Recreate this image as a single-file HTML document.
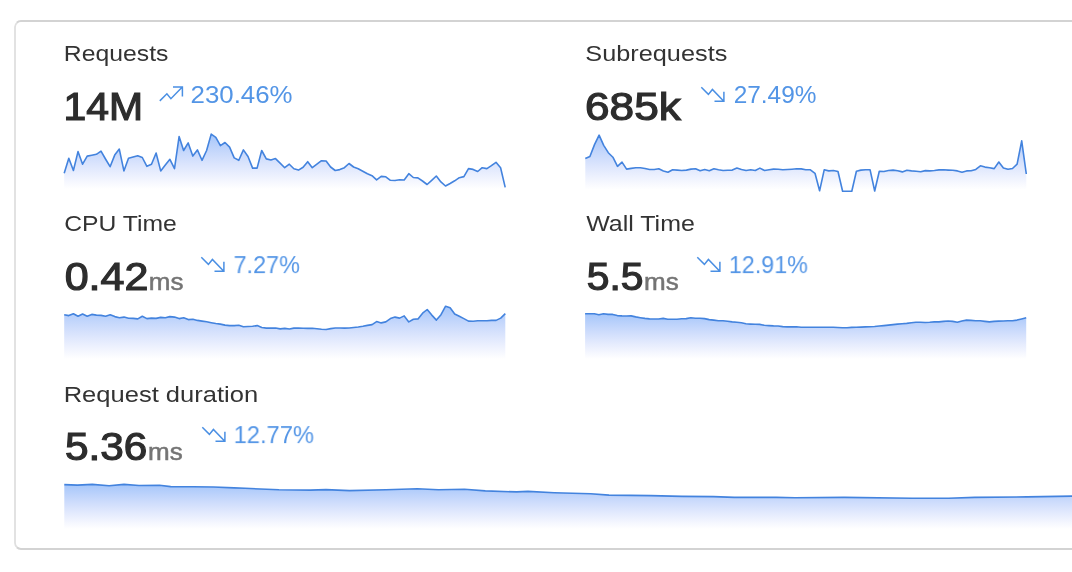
<!DOCTYPE html>
<html lang="en"><head><meta charset="utf-8"><title>Metrics</title>
<style>
html,body{margin:0;padding:0;background:#fff;}
body{width:1072px;height:572px;position:relative;overflow:hidden;font-family:"Liberation Sans",sans-serif;}
.t{position:absolute;white-space:nowrap;line-height:1;transform-origin:0 0;will-change:transform;}
.lbl{font-size:22px;color:#333;}
.num{font-size:38.7px;font-weight:normal;color:#2d2d2d;-webkit-text-stroke:1.2px #2d2d2d;}
.unit{font-size:23px;color:#747474;-webkit-text-stroke:0.5px #747474;}
.pct{font-size:24px;color:#5395e6;}
svg.bg{position:absolute;left:0;top:0;}
</style></head><body>
<svg class="bg" width="1072" height="572" viewBox="0 0 1072 572">
<path d="M1080,21 L21,21 A6,6 0 0 0 16.76,22.76" fill="none" stroke="#d3d3d3" stroke-width="2"/><path d="M16.76,547.24 A6,6 0 0 0 21,549 L1080,549" fill="none" stroke="#d3d3d3" stroke-width="2"/><path d="M16.9,22.9 A6,6 0 0 0 15,27 L15,543 A6,6 0 0 0 16.9,547.1" fill="none" stroke="#dfdfdf" stroke-width="1.8"/>
<linearGradient id="g1" gradientUnits="userSpaceOnUse" x1="0" y1="134.1" x2="0" y2="189"><stop offset="0" stop-color="#4a8df5" stop-opacity="0.5"/><stop offset="1" stop-color="#7088f5" stop-opacity="0"/></linearGradient><path d="M64.2,173.3 L68.8,158.3 L73.4,170.5 L78.0,151.6 L82.6,164.2 L87.2,156.1 L91.8,155.2 L96.4,154.3 L101.0,151.2 L105.5,159.0 L110.1,166.7 L114.7,155.1 L119.3,149.1 L123.9,170.9 L128.5,158.3 L133.1,157.0 L137.7,155.8 L142.3,157.5 L146.9,166.3 L151.5,164.2 L156.1,153.0 L160.7,170.9 L165.3,165.0 L169.9,159.3 L174.5,168.7 L179.1,136.5 L183.6,150.5 L188.2,142.9 L192.8,156.1 L197.4,149.9 L202.0,160.3 L206.6,150.5 L211.2,134.1 L215.8,137.3 L220.4,145.7 L225.0,142.5 L229.6,147.1 L234.2,157.9 L238.8,160.3 L243.4,149.9 L248.0,156.5 L252.6,168.1 L257.1,168.1 L261.7,150.5 L266.3,158.9 L270.9,160.0 L275.5,158.6 L280.1,163.1 L284.7,167.7 L289.3,164.2 L293.9,168.7 L298.5,170.1 L303.1,167.3 L307.7,161.7 L312.3,167.7 L316.9,164.2 L321.5,160.7 L326.1,161.0 L330.6,167.0 L335.2,170.5 L339.8,169.6 L344.4,167.7 L349.0,163.5 L353.6,167.0 L358.2,168.7 L362.8,171.2 L367.4,173.7 L372.0,175.7 L376.6,179.8 L381.2,176.4 L385.8,176.8 L390.4,180.3 L395.0,180.5 L399.6,179.8 L404.2,180.0 L408.8,173.7 L413.3,177.5 L417.9,177.9 L422.5,181.0 L427.1,184.5 L431.7,180.3 L436.3,176.0 L440.9,181.9 L445.5,186.0 L450.1,183.5 L454.7,180.8 L459.3,177.7 L463.9,176.6 L468.5,168.6 L473.1,169.4 L477.7,171.5 L482.2,167.7 L486.9,168.6 L491.4,165.6 L496.0,162.3 L500.6,167.7 L505.2,187.4 L505.2,189 L64.2,189 Z" fill="url(#g1)"/><path d="M64.2,173.3 L68.8,158.3 L73.4,170.5 L78.0,151.6 L82.6,164.2 L87.2,156.1 L91.8,155.2 L96.4,154.3 L101.0,151.2 L105.5,159.0 L110.1,166.7 L114.7,155.1 L119.3,149.1 L123.9,170.9 L128.5,158.3 L133.1,157.0 L137.7,155.8 L142.3,157.5 L146.9,166.3 L151.5,164.2 L156.1,153.0 L160.7,170.9 L165.3,165.0 L169.9,159.3 L174.5,168.7 L179.1,136.5 L183.6,150.5 L188.2,142.9 L192.8,156.1 L197.4,149.9 L202.0,160.3 L206.6,150.5 L211.2,134.1 L215.8,137.3 L220.4,145.7 L225.0,142.5 L229.6,147.1 L234.2,157.9 L238.8,160.3 L243.4,149.9 L248.0,156.5 L252.6,168.1 L257.1,168.1 L261.7,150.5 L266.3,158.9 L270.9,160.0 L275.5,158.6 L280.1,163.1 L284.7,167.7 L289.3,164.2 L293.9,168.7 L298.5,170.1 L303.1,167.3 L307.7,161.7 L312.3,167.7 L316.9,164.2 L321.5,160.7 L326.1,161.0 L330.6,167.0 L335.2,170.5 L339.8,169.6 L344.4,167.7 L349.0,163.5 L353.6,167.0 L358.2,168.7 L362.8,171.2 L367.4,173.7 L372.0,175.7 L376.6,179.8 L381.2,176.4 L385.8,176.8 L390.4,180.3 L395.0,180.5 L399.6,179.8 L404.2,180.0 L408.8,173.7 L413.3,177.5 L417.9,177.9 L422.5,181.0 L427.1,184.5 L431.7,180.3 L436.3,176.0 L440.9,181.9 L445.5,186.0 L450.1,183.5 L454.7,180.8 L459.3,177.7 L463.9,176.6 L468.5,168.6 L473.1,169.4 L477.7,171.5 L482.2,167.7 L486.9,168.6 L491.4,165.6 L496.0,162.3 L500.6,167.7 L505.2,187.4" fill="none" stroke="#4383de" stroke-width="1.6" stroke-linejoin="round" stroke-linecap="butt"/><linearGradient id="g2" gradientUnits="userSpaceOnUse" x1="0" y1="135.1" x2="0" y2="189.5"><stop offset="0" stop-color="#4a8df5" stop-opacity="0.5"/><stop offset="1" stop-color="#7088f5" stop-opacity="0"/></linearGradient><path d="M585.3,158.6 L589.9,156.5 L594.5,144.6 L599.1,135.1 L603.7,145.3 L608.3,152.7 L612.9,157.2 L617.5,166.3 L622.0,162.1 L626.6,169.1 L631.2,168.4 L635.8,167.8 L640.4,167.7 L645.0,168.5 L649.6,169.5 L654.2,169.5 L658.8,168.8 L663.4,170.9 L668.0,172.3 L672.6,169.8 L677.2,170.1 L681.8,170.5 L686.4,170.1 L691.0,169.1 L695.6,168.8 L700.1,170.8 L704.7,169.6 L709.3,170.8 L713.9,168.8 L718.5,169.8 L723.1,170.5 L727.7,170.3 L732.3,170.1 L736.9,168.1 L741.5,169.5 L746.1,170.5 L750.7,169.8 L755.3,170.5 L759.9,168.1 L764.5,170.5 L769.1,169.8 L773.6,169.1 L778.2,169.2 L782.8,169.8 L787.4,169.5 L792.0,169.2 L796.6,168.8 L801.2,168.9 L805.8,169.8 L810.4,169.8 L815.0,173.3 L819.6,190.8 L824.2,169.8 L828.8,170.9 L833.4,170.5 L838.0,171.5 L842.6,191.2 L847.2,191.2 L851.8,191.2 L856.4,171.2 L860.9,170.1 L865.5,169.8 L870.1,169.8 L874.7,191.0 L879.3,171.2 L883.9,171.5 L888.5,170.5 L893.1,170.1 L897.7,170.8 L902.3,171.9 L906.9,170.2 L911.5,170.9 L916.1,171.3 L920.7,171.7 L925.3,170.6 L929.9,170.9 L934.4,170.5 L939.0,169.9 L943.6,169.8 L948.2,170.1 L952.8,170.3 L957.4,170.9 L962.0,172.2 L966.6,170.9 L971.2,170.7 L975.8,169.4 L980.4,165.8 L985.0,167.1 L989.6,167.8 L994.2,168.6 L998.8,162.0 L1003.4,168.0 L1008.0,169.3 L1012.5,168.5 L1017.1,164.2 L1021.7,140.9 L1026.3,174.0 L1026.3,189.5 L585.3,189.5 Z" fill="url(#g2)"/><path d="M585.3,158.6 L589.9,156.5 L594.5,144.6 L599.1,135.1 L603.7,145.3 L608.3,152.7 L612.9,157.2 L617.5,166.3 L622.0,162.1 L626.6,169.1 L631.2,168.4 L635.8,167.8 L640.4,167.7 L645.0,168.5 L649.6,169.5 L654.2,169.5 L658.8,168.8 L663.4,170.9 L668.0,172.3 L672.6,169.8 L677.2,170.1 L681.8,170.5 L686.4,170.1 L691.0,169.1 L695.6,168.8 L700.1,170.8 L704.7,169.6 L709.3,170.8 L713.9,168.8 L718.5,169.8 L723.1,170.5 L727.7,170.3 L732.3,170.1 L736.9,168.1 L741.5,169.5 L746.1,170.5 L750.7,169.8 L755.3,170.5 L759.9,168.1 L764.5,170.5 L769.1,169.8 L773.6,169.1 L778.2,169.2 L782.8,169.8 L787.4,169.5 L792.0,169.2 L796.6,168.8 L801.2,168.9 L805.8,169.8 L810.4,169.8 L815.0,173.3 L819.6,190.8 L824.2,169.8 L828.8,170.9 L833.4,170.5 L838.0,171.5 L842.6,191.2 L847.2,191.2 L851.8,191.2 L856.4,171.2 L860.9,170.1 L865.5,169.8 L870.1,169.8 L874.7,191.0 L879.3,171.2 L883.9,171.5 L888.5,170.5 L893.1,170.1 L897.7,170.8 L902.3,171.9 L906.9,170.2 L911.5,170.9 L916.1,171.3 L920.7,171.7 L925.3,170.6 L929.9,170.9 L934.4,170.5 L939.0,169.9 L943.6,169.8 L948.2,170.1 L952.8,170.3 L957.4,170.9 L962.0,172.2 L966.6,170.9 L971.2,170.7 L975.8,169.4 L980.4,165.8 L985.0,167.1 L989.6,167.8 L994.2,168.6 L998.8,162.0 L1003.4,168.0 L1008.0,169.3 L1012.5,168.5 L1017.1,164.2 L1021.7,140.9 L1026.3,174.0" fill="none" stroke="#4383de" stroke-width="1.6" stroke-linejoin="round" stroke-linecap="butt"/><linearGradient id="g3" gradientUnits="userSpaceOnUse" x1="0" y1="306.2" x2="0" y2="359"><stop offset="0" stop-color="#4a8df5" stop-opacity="0.5"/><stop offset="1" stop-color="#7088f5" stop-opacity="0"/></linearGradient><path d="M64.2,314.7 L68.8,315.6 L73.4,313.7 L78.0,316.3 L82.6,314.0 L87.2,316.3 L91.8,314.4 L96.4,315.1 L101.0,315.4 L105.6,316.2 L110.2,314.7 L114.8,316.6 L119.4,317.7 L124.0,317.1 L128.6,318.3 L133.2,318.4 L137.8,318.9 L142.3,316.2 L146.9,318.6 L151.5,318.1 L156.1,318.4 L160.7,317.4 L165.3,317.7 L169.9,316.6 L174.5,317.1 L179.1,318.6 L183.7,317.8 L188.3,319.6 L192.9,319.2 L197.5,320.4 L202.1,321.1 L206.7,321.8 L211.3,322.7 L215.8,323.5 L220.4,324.1 L225.0,325.1 L229.6,325.6 L234.2,325.6 L238.8,325.3 L243.4,326.8 L248.0,326.5 L252.6,326.3 L257.2,325.6 L261.8,327.5 L266.4,328.1 L271.0,328.1 L275.6,328.0 L280.2,328.9 L284.8,328.4 L289.4,329.0 L293.9,328.1 L298.5,328.0 L303.1,328.3 L307.7,328.4 L312.3,328.3 L316.9,328.7 L321.5,329.3 L326.1,329.5 L330.7,328.6 L335.3,328.0 L339.9,328.0 L344.5,328.1 L349.1,328.0 L353.7,327.5 L358.3,327.0 L362.9,326.3 L367.4,325.4 L372.1,324.6 L376.6,321.6 L381.2,322.9 L385.8,321.9 L390.4,318.6 L395.0,317.1 L399.6,318.1 L404.2,315.9 L408.8,321.9 L413.4,319.2 L418.0,318.9 L422.6,313.2 L427.2,309.5 L431.8,315.1 L436.4,320.1 L441.0,314.7 L445.6,306.2 L450.1,307.7 L454.7,314.0 L459.3,316.2 L463.9,318.6 L468.5,321.1 L473.1,321.3 L477.7,320.8 L482.3,320.8 L486.9,320.7 L491.5,320.4 L496.1,320.4 L500.7,318.1 L505.3,313.7 L505.3,359 L64.2,359 Z" fill="url(#g3)"/><path d="M64.2,314.7 L68.8,315.6 L73.4,313.7 L78.0,316.3 L82.6,314.0 L87.2,316.3 L91.8,314.4 L96.4,315.1 L101.0,315.4 L105.6,316.2 L110.2,314.7 L114.8,316.6 L119.4,317.7 L124.0,317.1 L128.6,318.3 L133.2,318.4 L137.8,318.9 L142.3,316.2 L146.9,318.6 L151.5,318.1 L156.1,318.4 L160.7,317.4 L165.3,317.7 L169.9,316.6 L174.5,317.1 L179.1,318.6 L183.7,317.8 L188.3,319.6 L192.9,319.2 L197.5,320.4 L202.1,321.1 L206.7,321.8 L211.3,322.7 L215.8,323.5 L220.4,324.1 L225.0,325.1 L229.6,325.6 L234.2,325.6 L238.8,325.3 L243.4,326.8 L248.0,326.5 L252.6,326.3 L257.2,325.6 L261.8,327.5 L266.4,328.1 L271.0,328.1 L275.6,328.0 L280.2,328.9 L284.8,328.4 L289.4,329.0 L293.9,328.1 L298.5,328.0 L303.1,328.3 L307.7,328.4 L312.3,328.3 L316.9,328.7 L321.5,329.3 L326.1,329.5 L330.7,328.6 L335.3,328.0 L339.9,328.0 L344.5,328.1 L349.1,328.0 L353.7,327.5 L358.3,327.0 L362.9,326.3 L367.4,325.4 L372.1,324.6 L376.6,321.6 L381.2,322.9 L385.8,321.9 L390.4,318.6 L395.0,317.1 L399.6,318.1 L404.2,315.9 L408.8,321.9 L413.4,319.2 L418.0,318.9 L422.6,313.2 L427.2,309.5 L431.8,315.1 L436.4,320.1 L441.0,314.7 L445.6,306.2 L450.1,307.7 L454.7,314.0 L459.3,316.2 L463.9,318.6 L468.5,321.1 L473.1,321.3 L477.7,320.8 L482.3,320.8 L486.9,320.7 L491.5,320.4 L496.1,320.4 L500.7,318.1 L505.3,313.7" fill="none" stroke="#4383de" stroke-width="1.6" stroke-linejoin="round" stroke-linecap="butt"/><linearGradient id="g4" gradientUnits="userSpaceOnUse" x1="0" y1="313.7" x2="0" y2="359"><stop offset="0" stop-color="#4a8df5" stop-opacity="0.5"/><stop offset="1" stop-color="#7088f5" stop-opacity="0"/></linearGradient><path d="M585.1,313.7 L589.7,313.8 L594.3,313.8 L598.9,314.7 L603.5,313.7 L608.1,314.4 L612.7,314.4 L617.3,315.6 L621.9,315.9 L626.5,316.0 L631.1,315.9 L635.7,316.9 L640.3,317.7 L644.9,318.4 L649.5,318.9 L654.1,319.0 L658.6,319.0 L663.2,318.4 L667.8,319.3 L672.4,319.3 L677.0,319.2 L681.6,318.7 L686.2,318.6 L690.8,317.8 L695.4,318.3 L700.0,318.3 L704.6,318.6 L709.2,319.6 L713.8,320.1 L718.4,320.7 L723.0,320.7 L727.6,321.2 L732.2,321.9 L736.8,322.3 L741.4,322.8 L745.9,323.8 L750.5,324.1 L755.1,324.3 L759.7,324.4 L764.3,325.3 L768.9,325.6 L773.5,325.9 L778.1,326.0 L782.7,326.6 L787.3,326.9 L791.9,326.9 L796.5,326.8 L801.1,327.2 L805.7,327.2 L810.3,327.2 L814.9,327.2 L819.4,327.2 L824.0,327.2 L828.6,327.2 L833.2,327.2 L837.8,327.5 L842.4,327.7 L847.0,327.7 L851.6,327.4 L856.2,327.2 L860.8,327.1 L865.4,326.9 L870.0,326.8 L874.6,326.5 L879.2,326.0 L883.8,325.6 L888.4,325.1 L893.0,324.6 L897.5,324.1 L902.1,323.7 L906.7,323.4 L911.3,322.8 L915.9,322.2 L920.5,322.2 L925.1,322.5 L929.7,322.3 L934.3,321.9 L938.9,321.9 L943.5,321.4 L948.1,321.0 L952.7,321.4 L957.3,322.3 L961.9,321.0 L966.5,320.1 L971.0,320.4 L975.6,320.8 L980.2,320.8 L984.8,321.4 L989.4,321.9 L994.0,321.4 L998.6,321.1 L1003.2,321.0 L1007.8,320.7 L1012.4,320.7 L1017.0,320.1 L1021.6,318.9 L1026.2,317.7 L1026.2,359 L585.1,359 Z" fill="url(#g4)"/><path d="M585.1,313.7 L589.7,313.8 L594.3,313.8 L598.9,314.7 L603.5,313.7 L608.1,314.4 L612.7,314.4 L617.3,315.6 L621.9,315.9 L626.5,316.0 L631.1,315.9 L635.7,316.9 L640.3,317.7 L644.9,318.4 L649.5,318.9 L654.1,319.0 L658.6,319.0 L663.2,318.4 L667.8,319.3 L672.4,319.3 L677.0,319.2 L681.6,318.7 L686.2,318.6 L690.8,317.8 L695.4,318.3 L700.0,318.3 L704.6,318.6 L709.2,319.6 L713.8,320.1 L718.4,320.7 L723.0,320.7 L727.6,321.2 L732.2,321.9 L736.8,322.3 L741.4,322.8 L745.9,323.8 L750.5,324.1 L755.1,324.3 L759.7,324.4 L764.3,325.3 L768.9,325.6 L773.5,325.9 L778.1,326.0 L782.7,326.6 L787.3,326.9 L791.9,326.9 L796.5,326.8 L801.1,327.2 L805.7,327.2 L810.3,327.2 L814.9,327.2 L819.4,327.2 L824.0,327.2 L828.6,327.2 L833.2,327.2 L837.8,327.5 L842.4,327.7 L847.0,327.7 L851.6,327.4 L856.2,327.2 L860.8,327.1 L865.4,326.9 L870.0,326.8 L874.6,326.5 L879.2,326.0 L883.8,325.6 L888.4,325.1 L893.0,324.6 L897.5,324.1 L902.1,323.7 L906.7,323.4 L911.3,322.8 L915.9,322.2 L920.5,322.2 L925.1,322.5 L929.7,322.3 L934.3,321.9 L938.9,321.9 L943.5,321.4 L948.1,321.0 L952.7,321.4 L957.3,322.3 L961.9,321.0 L966.5,320.1 L971.0,320.4 L975.6,320.8 L980.2,320.8 L984.8,321.4 L989.4,321.9 L994.0,321.4 L998.6,321.1 L1003.2,321.0 L1007.8,320.7 L1012.4,320.7 L1017.0,320.1 L1021.6,318.9 L1026.2,317.7" fill="none" stroke="#4383de" stroke-width="1.6" stroke-linejoin="round" stroke-linecap="butt"/><linearGradient id="g5" gradientUnits="userSpaceOnUse" x1="0" y1="484.4" x2="0" y2="529"><stop offset="0" stop-color="#4a8df5" stop-opacity="0.5"/><stop offset="1" stop-color="#7088f5" stop-opacity="0"/></linearGradient><path d="M64.3,484.6 L77.4,485.1 L92.3,484.4 L109.1,485.7 L124.0,484.4 L139.0,485.5 L159.5,485.3 L170.7,486.6 L193.1,486.8 L213.6,487.0 L234.1,487.9 L245.0,488.3 L279.0,489.8 L310.3,490.1 L326.0,489.6 L349.5,490.6 L386.0,489.8 L417.4,488.8 L438.3,489.8 L464.4,489.3 L485.3,490.9 L516.6,491.9 L528.0,491.4 L554.2,492.7 L590.7,493.8 L609.0,495.1 L650.8,495.6 L682.1,496.4 L713.5,496.6 L734.4,497.4 L776.2,497.4 L795.0,497.8 L844.2,497.4 L912.1,498.2 L948.7,498.2 L974.8,497.4 L1027.0,496.9 L1072.0,496.1 L1090.0,495.8 L1090.0,529 L64.3,529 Z" fill="url(#g5)"/><path d="M64.3,484.6 L77.4,485.1 L92.3,484.4 L109.1,485.7 L124.0,484.4 L139.0,485.5 L159.5,485.3 L170.7,486.6 L193.1,486.8 L213.6,487.0 L234.1,487.9 L245.0,488.3 L279.0,489.8 L310.3,490.1 L326.0,489.6 L349.5,490.6 L386.0,489.8 L417.4,488.8 L438.3,489.8 L464.4,489.3 L485.3,490.9 L516.6,491.9 L528.0,491.4 L554.2,492.7 L590.7,493.8 L609.0,495.1 L650.8,495.6 L682.1,496.4 L713.5,496.6 L734.4,497.4 L776.2,497.4 L795.0,497.8 L844.2,497.4 L912.1,498.2 L948.7,498.2 L974.8,497.4 L1027.0,496.9 L1072.0,496.1 L1090.0,495.8" fill="none" stroke="#4383de" stroke-width="1.6" stroke-linejoin="round" stroke-linecap="butt"/>
<path d="M159.8,100.9 L166.9,93.8 L170.9,98.7 L182.3,87.0 M173.0,87.0 L182.4,87.0 L182.4,96.5" fill="none" stroke="#4a8fe3" stroke-width="1.5" stroke-linecap="butt" stroke-linejoin="miter"/><path d="M701.3,87.3 L708.4,94.4 L712.4,89.5 L723.8,101.2 M714.5,101.2 L723.9,101.2 L723.9,91.7" fill="none" stroke="#4a8fe3" stroke-width="1.5" stroke-linecap="butt" stroke-linejoin="miter"/><path d="M201.3,257.3 L208.4,264.4 L212.4,259.5 L223.8,271.2 M214.5,271.2 L223.9,271.2 L223.9,261.7" fill="none" stroke="#4a8fe3" stroke-width="1.5" stroke-linecap="butt" stroke-linejoin="miter"/><path d="M697.3,257.3 L704.4,264.4 L708.4,259.5 L719.8,271.2 M710.5,271.2 L719.9,271.2 L719.9,261.7" fill="none" stroke="#4a8fe3" stroke-width="1.5" stroke-linecap="butt" stroke-linejoin="miter"/><path d="M202.3,427.3 L209.4,434.4 L213.4,429.5 L224.8,441.2 M215.5,441.2 L224.9,441.2 L224.9,431.7" fill="none" stroke="#4a8fe3" stroke-width="1.5" stroke-linecap="butt" stroke-linejoin="miter"/>
</svg>
<div class="t lbl" id="l1" style="left:63px;top:43px;transform:translate(0.83px,0.41px) scaleX(1.1249)">Requests</div>
<div class="t num" id="n1" style="left:63px;top:87px;transform:translate(0.42px,0.50px) scaleX(1.0567)">14M</div>
<div class="t pct" id="p1" style="left:190px;top:83px;transform:translate(0.55px,0.12px) scaleX(1.0771)">230.46%</div>
<div class="t lbl" id="l2" style="left:585px;top:43px;transform:translate(0.35px,0.41px) scaleX(1.1491)">Subrequests</div>
<div class="t num" id="n2" style="left:585px;top:87px;transform:translate(0.07px,0.50px) scaleX(1.1403)">685k</div>
<div class="t pct" id="p2" style="left:733px;top:83px;transform:translate(0.63px,0.12px) scaleX(1.0170)">27.49%</div>
<div class="t lbl" id="l3" style="left:64px;top:213px;transform:translate(0.18px,0.41px) scaleX(1.1226)">CPU Time</div>
<div class="t num" id="n3" style="left:64px;top:257px;transform:translate(0.69px,0.50px) scaleX(1.1123)">0.42</div>
<div class="t unit" id="u3" style="left:148px;top:270px;transform:translate(0.79px,0.76px) scaleX(1.1304)">ms</div>
<div class="t pct" id="p3" style="left:233px;top:253px;transform:translate(0.58px,0.12px) scaleX(0.9742)">7.27%</div>
<div class="t lbl" id="l4" style="left:586px;top:213px;transform:translate(0.22px,0.41px) scaleX(1.1344)">Wall Time</div>
<div class="t num" id="n4" style="left:586px;top:257px;transform:translate(0.71px,0.50px) scaleX(1.0538)">5.5</div>
<div class="t unit" id="u4" style="left:644px;top:270px;transform:translate(0.09px,0.76px) scaleX(1.1304)">ms</div>
<div class="t pct" id="p4" style="left:728px;top:253px;transform:translate(0.90px,0.12px) scaleX(0.9702)">12.91%</div>
<div class="t lbl" id="l5" style="left:63px;top:383px;transform:translate(0.67px,0.81px) scaleX(1.1604)">Request duration</div>
<div class="t num" id="n5" style="left:64px;top:427px;transform:translate(0.88px,0.50px) scaleX(1.0939)">5.36</div>
<div class="t unit" id="u5" style="left:148px;top:440px;transform:translate(0.09px,0.76px) scaleX(1.1304)">ms</div>
<div class="t pct" id="p5" style="left:233px;top:423px;transform:translate(0.67px,0.12px) scaleX(0.9867)">12.77%</div>
</body></html>
